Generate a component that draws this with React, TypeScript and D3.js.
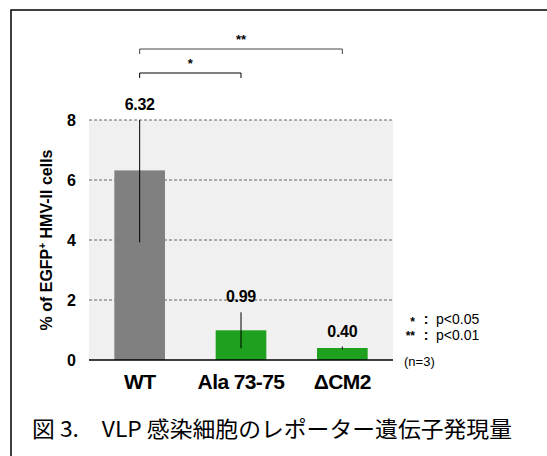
import React from "react";
import * as d3 from "d3";

const categories = ["WT", "Ala 73-75", "ΔCM2"];
const means = [6.32, 0.99, 0.4];
const sds = [2.4, 0.6, 0.05];
const valueLabels = ["6.32", "0.99", "0.40"];
const barColors = ["#808080", "#1fa11f", "#1fa11f"];
const yTicks = [0, 2, 4, 6, 8];
const brackets = [
  { from: "WT", to: "Ala 73-75", mark: "*" },
  { from: "WT", to: "ΔCM2", mark: "**" },
];
const legendRows = [
  { mark: "*", text: "p<0.05" },
  { mark: "**", text: "p<0.01" },
];

const W = 547;
const H = 456;
const margin = { left: 89, right: 154, top: 120, bottom: 96 };

const App = () => {
  const x = d3
    .scaleBand()
    .domain(categories)
    .range([margin.left, W - margin.right])
    .paddingInner(0.5)
    .paddingOuter(0.25);

  const y = d3.scaleLinear().domain([0, 8]).range([H - margin.bottom, margin.top]);
  const cx = (c) => x(c) + x.bandwidth() / 2;
  const sans = "'Liberation Sans', Arial, sans-serif";

  return (
    <svg
      width={W}
      height={H}
      style={{ position: "fixed", left: 0, top: 0, background: "#fff" }}
    >
      {/* outer frame, only top/left edges visible */}
      <rect x={11} y={10} width={W} height={H} fill="none" stroke="#000" strokeWidth={1.5} />

      {/* plot background */}
      <rect
        x={margin.left}
        y={margin.top}
        width={W - margin.right - margin.left}
        height={H - margin.bottom - margin.top}
        fill="#f0f0f0"
      />

      {/* grid + y tick labels */}
      {yTicks.map((t) => (
        <g key={t}>
          {t > 0 && (
            <line
              x1={margin.left}
              x2={W - margin.right}
              y1={y(t)}
              y2={y(t)}
              stroke="#666"
              strokeWidth={1}
              strokeDasharray="3,2"
            />
          )}
          <text
            x={76}
            y={y(t)}
            dy="0.36em"
            textAnchor="end"
            fontFamily={sans}
            fontWeight="bold"
            fontSize={16}
          >
            {t}
          </text>
        </g>
      ))}

      {/* bars */}
      {categories.map((c, i) => (
        <rect
          key={c}
          x={x(c)}
          y={y(means[i])}
          width={x.bandwidth()}
          height={y(0) - y(means[i])}
          fill={barColors[i]}
        />
      ))}

      {/* x axis line */}
      <line
        x1={margin.left}
        x2={W - margin.right}
        y1={y(0)}
        y2={y(0)}
        stroke="#000"
        strokeWidth={1.5}
      />

      {/* error bars (clipped to axis max) */}
      {categories.map((c, i) => (
        <line
          key={c}
          x1={cx(c)}
          x2={cx(c)}
          y1={y(Math.min(means[i] + sds[i], 8))}
          y2={y(means[i] - sds[i])}
          stroke="#000"
          strokeWidth={1}
        />
      ))}

      {/* value labels */}
      {categories.map((c, i) => (
        <text
          key={c}
          x={cx(c)}
          y={y(Math.min(means[i] + sds[i], 8)) - 10}
          textAnchor="middle"
          fontFamily={sans}
          fontWeight="bold"
          fontSize={16}
          letterSpacing={-0.3}
        >
          {valueLabels[i]}
        </text>
      ))}

      {/* x labels */}
      {categories.map((c) => (
        <text
          key={c}
          x={cx(c)}
          y={389}
          textAnchor="middle"
          fontFamily={sans}
          fontWeight="bold"
          fontSize={21}
          letterSpacing={-0.6}
        >
          {c}
        </text>
      ))}

      {/* y axis title */}
      <text
        transform={`translate(52,${(margin.top + H - margin.bottom) / 2}) rotate(-90)`}
        textAnchor="middle"
        fontFamily={sans}
        fontWeight="bold"
        fontSize={16}
      >
        % of EGFP
        <tspan fontSize={10} dy={-6}>+</tspan>
        <tspan dy={6}> HMV-II cells</tspan>
      </text>

      {/* significance brackets */}
      {brackets.map((b, i) => {
        const by = i === 0 ? 73 : 49;
        const x1 = cx(b.from);
        const x2 = cx(b.to);
        return (
          <g key={b.mark}>
            <path
              d={`M${x1},${by + 5}V${by}H${x2}V${by + 5}`}
              fill="none"
              stroke={i === 0 ? "#000" : "#444"}
              strokeWidth={1}
            />
            <text
              x={(x1 + x2) / 2}
              y={by - 5}
              textAnchor="middle"
              fontFamily={sans}
              fontWeight="bold"
              fontSize={13}
            >
              {b.mark}
            </text>
          </g>
        );
      })}

      {/* legend */}
      {legendRows.map((r, i) => (
        <g key={r.mark} fontFamily={sans} fontSize={14}>
          <text x={415} y={326 + i * 14} textAnchor="end" fontWeight="bold" fontSize={12}>
            {r.mark}
          </text>
          <text x={426} y={324 + i * 16} textAnchor="middle" fontWeight="bold">
            :
          </text>
          <text x={436} y={324 + i * 16}>
            {r.text}
          </text>
        </g>
      ))}
      <text x={404} y={366} fontFamily={sans} fontSize={13}>
        (n=3)
      </text>

      {/* caption */}
      <text
        x={32}
        y={437}
        fontFamily="'Noto Sans CJK JP', sans-serif"
        fontSize={22}
        textLength={480}
        lengthAdjust="spacingAndGlyphs"
      >
        図 3.　VLP 感染細胞のレポーター遺伝子発現量
      </text>
    </svg>
  );
};

export default App;
